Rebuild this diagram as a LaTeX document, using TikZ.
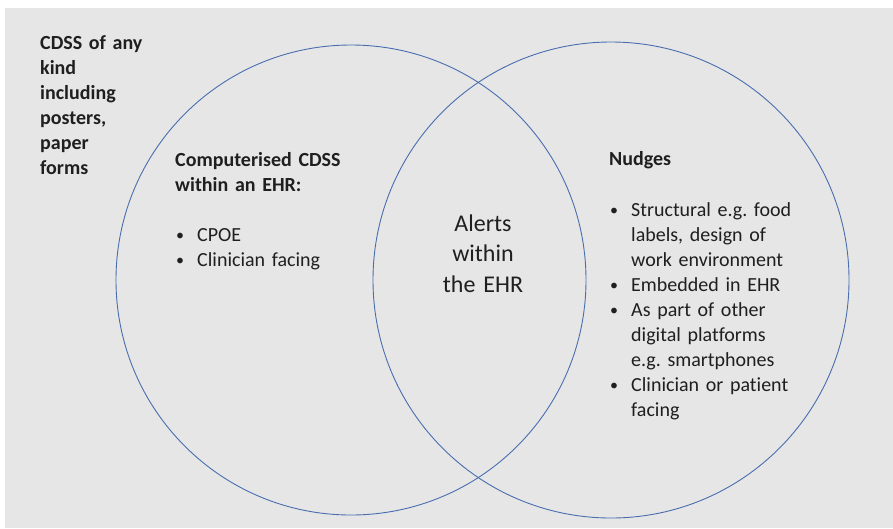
\documentclass[tikz,border=0pt]{standalone}
\usepackage{fontspec}
\setmainfont[Ligatures={NoCommon,NoRare}]{Carlito}
\usetikzlibrary{positioning}
\definecolor{paper}{HTML}{E6E6E6}
\definecolor{ring}{HTML}{4A6DAE}
\definecolor{ink}{HTML}{1F1F1F}
\newcommand{\bul}[1]{\makebox[22pt][l]{\hspace*{1pt}\raisebox{1pt}{\fontsize{16}{16}\selectfont\textbullet}}#1}
\newcommand{\cont}{\hspace*{22pt}}
\frenchspacing

\begin{document}
\begin{tikzpicture}[x=1pt,y=-1pt,
  venn/.style={draw=ring,line width=0.9pt,circle,inner sep=0pt},
  txt/.style={anchor=base west,inner sep=0pt,text width=260pt,align=left,text=ink,font=\fontsize{20}{25}\selectfont}]
  % canvas
  \useasboundingbox (0,0) rectangle (893,528);
  \fill[paper] (5,8) rectangle (893,528);
  % the two circles
  \node[venn,minimum size=470pt] (cdss) at (351,280) {};
  \node[venn,minimum size=476pt] (nudge) at (611,280) {};
  % outside both circles
  \node[txt,font=\fontsize{20}{25}\selectfont\bfseries] (anykind) at (40,49)
    {CDSS of any\\kind\\including\\posters,\\paper\\forms};
  % left circle
  \node[txt,font=\fontsize{20}{25}\selectfont\bfseries] (ccdss) at (175,166)
    {Computerised CDSS\\within an EHR:};
  \node[txt] (ccdsslist) at (175,241)
    {\bul{CPOE}\\\bul{Clinician facing}};
  % overlap
  \node[anchor=base,inner sep=0pt,text width=140pt,align=center,text=ink,
    font=\fontsize{24}{30.5}\selectfont] (alerts) at (483,231)
    {Alerts\\within\\the EHR};
  % right circle
  \node[txt,font=\fontsize{20}{25}\selectfont\bfseries] (nudges) at (609,165) {Nudges};
  \node[txt] (nudgelist) at (609,216)
    {\bul{Structural e.g. food}\\\cont labels, design of\\\cont work environment\\
     \bul{Embedded in EHR}\\\bul{As part of other}\\\cont digital platforms\\
     \cont e.g. smartphones\\\bul{Clinician or patient}\\\cont facing};
\end{tikzpicture}
\end{document}
